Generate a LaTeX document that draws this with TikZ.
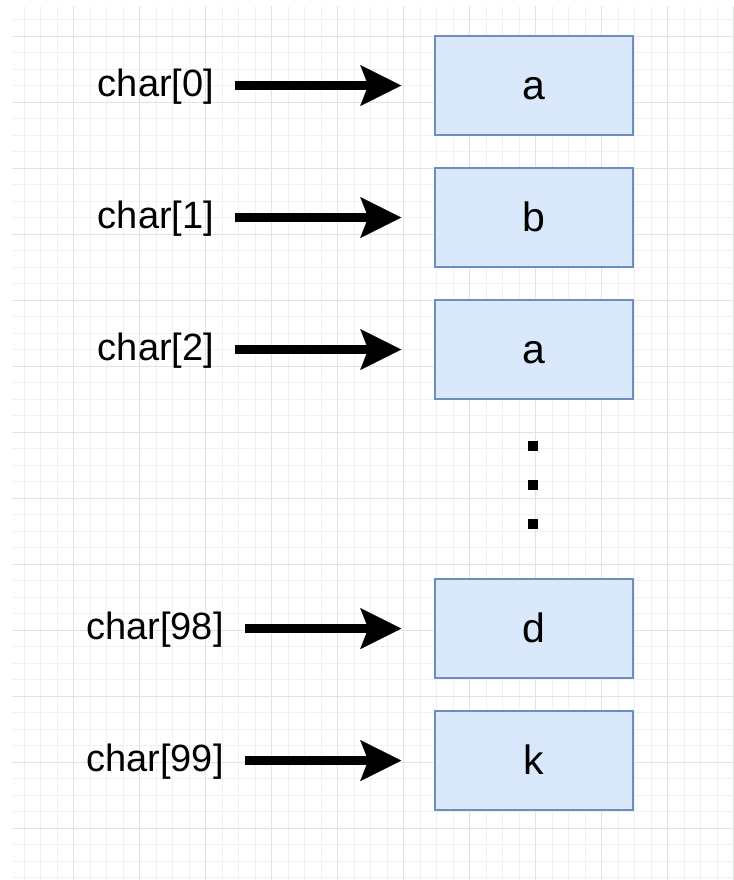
\documentclass[tikz,border=0pt]{standalone}
\usepackage{fontspec}
\setmainfont{Liberation Sans}
\usetikzlibrary{arrows.meta}
\definecolor{boxfill}{HTML}{DAE8FC}
\definecolor{boxline}{HTML}{6C8EBF}
\definecolor{gridminor}{HTML}{F1F1F1}
\definecolor{gridmajor}{HTML}{E2E2E2}
\begin{document}
\begin{tikzpicture}[x=0.5pt,y=-0.5pt,
  cell/.style={draw=boxline, fill=boxfill, line width=0.75pt,
    minimum width=99pt, minimum height=49.5pt, inner sep=0pt,
    text height=16pt, text depth=1.7pt, font=\fontsize{20.5}{24}\selectfont},
  lbl/.style={inner sep=0pt, text height=15pt, text depth=3.8pt,
    font=\fontsize{19}{23}\selectfont},
  conn/.style={line width=4.25pt,
    -{Stealth[length=20.5pt,width=20.5pt,inset=4pt,line width=0.01pt]},
    shorten <=10.5pt, shorten >=16.5pt},
  minorline/.style={draw=gridminor, line width=0.5pt},
  majorline/.style={draw=gridmajor, line width=0.5pt}]
\useasboundingbox (0,0) rectangle (734,880);
% background grid
\begin{scope}
  \clip (12,6) rectangle (734,880);
  \foreach \i in {1,...,44} \draw[minorline] ({7.5+16.5*\i},6) -- ({7.5+16.5*\i},880);
  \foreach \j in {1,...,53} \draw[minorline] (12,{3+16.5*\j}) -- (734,{3+16.5*\j});
  \foreach \i in {0,...,10} \draw[majorline] ({73.5+66*\i},6) -- ({73.5+66*\i},880);
  \foreach \j in {0,...,12} \draw[majorline] (12,{36+66*\j}) -- (734,{36+66*\j});
\end{scope}
% cells
\node[cell] (b0)  at (534,85.5)  {a};
\node[cell] (b1)  at (534,217.5) {b};
\node[cell] (b2)  at (534,349.5) {a};
\node[cell] (b98) at (534,628.5) {d};
\node[cell] (b99) at (534,760.5) {k};
% labels
\node[lbl] (l0)  at (156,85.5)  {char[0]};
\node[lbl] (l1)  at (156,217.5) {char[1]};
\node[lbl] (l2)  at (156,349.5) {char[2]};
\node[lbl] (l98) at (155,628.5) {char[98]};
\node[lbl] (l99) at (155,760.5) {char[99]};
% connectors
\draw[conn] (l0)  -- (b0);
\draw[conn] (l1)  -- (b1);
\draw[conn] (l2)  -- (b2);
\draw[conn] (l98) -- (b98);
\draw[conn] (l99) -- (b99);
% ellipsis dots
\fill (528,441) rectangle (538,451);
\fill (528,480) rectangle (538,490);
\fill (528,519) rectangle (538,529);
\end{tikzpicture}
\end{document}
